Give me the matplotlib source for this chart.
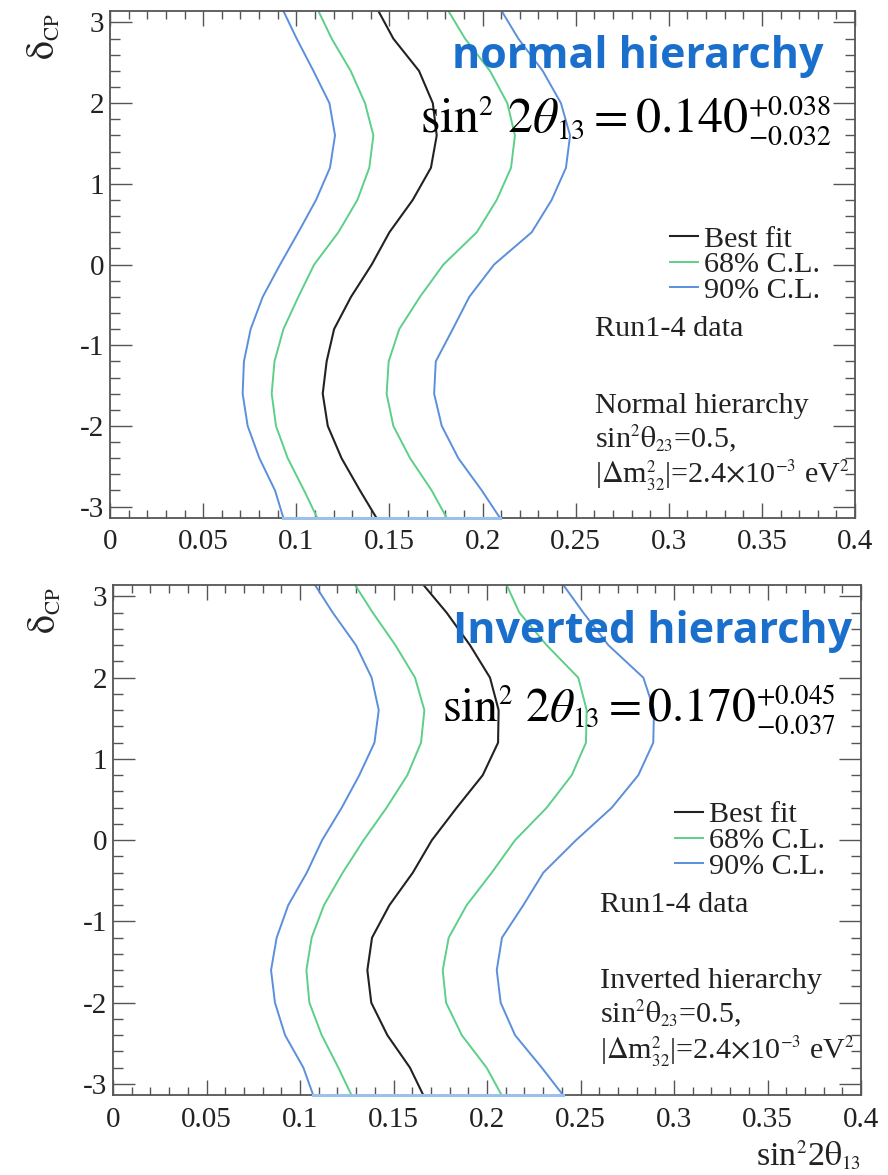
import numpy as np
import matplotlib.pyplot as plt
import matplotlib._mathtext as mathtext_internal
from matplotlib.ticker import MultipleLocator, FixedLocator, FixedFormatter

plt.rcParams['font.family'] = ['Liberation Serif', 'DejaVu Serif']
plt.rcParams['mathtext.fontset'] = 'stix'
# ROOT-style scripts are smaller than matplotlib's default 0.7
mathtext_internal.SHRINK_FACTOR = 0.56

# ---------- data ----------
delta = [-np.pi, -2.8, -2.4, -2.0, -1.6, -1.2, -0.8, -0.4, 0.0,
         0.4, 0.8, 1.2, 1.6, 2.0, 2.4, 2.8, np.pi]

# normal hierarchy
nh_blue_lo = [0.0931, 0.0886, 0.0802, 0.0739, 0.0712, 0.0719, 0.0755, 0.0820, 0.0913,
              0.1011, 0.1106, 0.1181, 0.1208, 0.1178, 0.1092, 0.1002, 0.0931]
nh_green_lo = [0.1113, 0.1042, 0.0954, 0.0891, 0.0868, 0.0883, 0.0931, 0.1011, 0.1096,
               0.1226, 0.1328, 0.1392, 0.1414, 0.1369, 0.1292, 0.1190, 0.1119]
nh_best = [0.1431, 0.1342, 0.1243, 0.1169, 0.1142, 0.1163, 0.1203, 0.1294, 0.1405,
           0.1500, 0.1625, 0.1723, 0.1754, 0.1733, 0.1659, 0.1521, 0.1441]
nh_green_hi = [0.1808, 0.1727, 0.1611, 0.1521, 0.1485, 0.1496, 0.1553, 0.1664, 0.1790,
               0.1969, 0.2076, 0.2153, 0.2174, 0.2133, 0.2040, 0.1906, 0.1817]
nh_blue_hi = [0.2094, 0.1996, 0.1870, 0.1781, 0.1740, 0.1749, 0.1840, 0.1929, 0.2062,
              0.2264, 0.2371, 0.2448, 0.2470, 0.2421, 0.2323, 0.2192, 0.2103]

# inverted hierarchy
ih_blue_lo = [0.1071, 0.1018, 0.0920, 0.0866, 0.0845, 0.0875, 0.0937, 0.1036, 0.1118,
              0.1223, 0.1317, 0.1398, 0.1421, 0.1383, 0.1299, 0.1175, 0.1080]
ih_green_lo = [0.1276, 0.1205, 0.1116, 0.1050, 0.1034, 0.1062, 0.1128, 0.1228, 0.1340,
               0.1463, 0.1574, 0.1647, 0.1665, 0.1615, 0.1510, 0.1389, 0.1294]
ih_best = [0.1660, 0.1588, 0.1467, 0.1381, 0.1360, 0.1385, 0.1478, 0.1603, 0.1705,
           0.1838, 0.1977, 0.2059, 0.2062, 0.2016, 0.1909, 0.1784, 0.1660]
ih_green_hi = [0.2079, 0.1998, 0.1865, 0.1781, 0.1763, 0.1795, 0.1891, 0.2025, 0.2150,
               0.2319, 0.2453, 0.2529, 0.2533, 0.2488, 0.2319, 0.2173, 0.2105]
ih_blue_hi = [0.2408, 0.2293, 0.2150, 0.2073, 0.2052, 0.2080, 0.2194, 0.2301, 0.2476,
              0.2667, 0.2809, 0.2889, 0.2893, 0.2836, 0.2649, 0.2515, 0.2408]

xticks = [0, 0.05, 0.1, 0.15, 0.2, 0.25, 0.3, 0.35, 0.4]
xticklabels = ["0", "0.05", "0.1", "0.15", "0.2", "0.25", "0.3", "0.35", "0.4"]
yticks = [-3, -2, -1, 0, 1, 2, 3]
yticklabels = ["-3", "-2", "-1", "0", "1", "2", "3"]

legend_labels = ["Best fit", "68% C.L.", "90% C.L."]

BLACK = "#222222"
GREEN = "#5ccf88"
BLUE = "#5b8fdc"
LIGHTBLUE = "#9cc0ec"
TITLE_BLUE = "#1b6fcc"
FRAME = "#555555"
TXT = "#222222"
FS = 21       # tick labels
FT = 21.7     # annotation / legend text

fig = plt.figure(figsize=(8.88, 11.75), dpi=100)
ax1 = fig.add_axes([0.1239, 0.5591, 0.8390, 0.4315])
ax2 = fig.add_axes([0.1273, 0.0677, 0.8423, 0.4345])


def draw_panel(ax, blue_lo, green_lo, best, green_hi, blue_hi):
    lb, = ax.plot(best, delta, color=BLACK, lw=1.5)
    lg, = ax.plot(green_lo, delta, color=GREEN, lw=1.4)
    ax.plot(green_hi, delta, color=GREEN, lw=1.4)
    lbl, = ax.plot(blue_lo, delta, color=BLUE, lw=1.4)
    ax.plot(blue_hi, delta, color=BLUE, lw=1.4)
    # 90% contour closes along the lower edge
    ax.plot([blue_lo[0], blue_hi[0]], [delta[0], delta[0]], color=LIGHTBLUE,
            lw=2.2, clip_on=False, zorder=5)

    ax.set_xlim(0, 0.4)
    ax.set_ylim(-np.pi, np.pi)
    ax.xaxis.set_major_locator(FixedLocator(xticks))
    ax.xaxis.set_major_formatter(FixedFormatter(xticklabels))
    ax.xaxis.set_minor_locator(MultipleLocator(0.01))
    ax.yaxis.set_major_locator(FixedLocator(yticks))
    ax.yaxis.set_major_formatter(FixedFormatter(yticklabels))
    ax.yaxis.set_minor_locator(MultipleLocator(0.2))
    ax.tick_params(which='both', direction='in', top=True, right=True,
                   color=FRAME, labelsize=FS, width=1.0, labelcolor=TXT)
    ax.tick_params(axis='x', which='major', length=11, pad=8)
    ax.tick_params(axis='x', which='minor', length=5.5)
    ax.tick_params(axis='y', which='major', length=16, pad=4)
    ax.tick_params(axis='y', which='minor', length=7.5)
    for s in ax.spines.values():
        s.set_color(FRAME)
        s.set_linewidth(1.3)
    return [lb, lg, lbl]


def annotate(ax, title, title_x, title_y, formula, form_x, form_y, form_fs,
             leg_handles, leg_y, hier, ys):
    ax.text(title_x, title_y, title, transform=ax.transAxes, ha='right',
            va='baseline', color=TITLE_BLUE, fontsize=31, fontweight='bold',
            family='Open Sans')
    ax.text(form_x, form_y, formula, transform=ax.transAxes, ha='left',
            va='baseline', fontsize=form_fs, color='black')
    ax.legend(leg_handles, legend_labels, loc='upper left',
              bbox_to_anchor=(0.7517, leg_y), frameon=False, fontsize=FT,
              handlelength=0.93, handletextpad=0.2, labelspacing=-0.05,
              borderpad=0, borderaxespad=0, labelcolor=TXT)
    lines = ["Run1-4 data", hier, r'sin$^2\mathrm{\theta}_{23}$=0.5,',
             r'|$\Delta$m$^2_{32}$|=2.4$\times$10$^{-3}$ eV$^2$']
    for s, y in zip(lines, ys):
        ax.text(0.651, y, s, transform=ax.transAxes, fontsize=FT,
                va='baseline', color=TXT)


h1 = draw_panel(ax1, nh_blue_lo, nh_green_lo, nh_best, nh_green_hi, nh_blue_hi)
h2 = draw_panel(ax2, ih_blue_lo, ih_green_lo, ih_best, ih_green_hi, ih_blue_hi)

annotate(ax1, "normal hierarchy", 0.957, 0.8876,
         r'$\sin^2\,2\theta_{13} = 0.140^{+0.038}_{-0.032}$', 0.416, 0.7594, 36,
         h1, 0.577, "Normal hierarchy", [0.359, 0.207, 0.140, 0.071])
annotate(ax2, "Inverted hierarchy", 0.988, 0.886,
         r'$\sin^2\,2\theta_{13} = 0.170^{+0.045}_{-0.037}$', 0.44, 0.7316, 34.5,
         h2, 0.576, "Inverted hierarchy", [0.3594, 0.2106, 0.142, 0.0735])

for ax, xl in [(ax1, -0.088), (ax2, -0.091)]:
    ax.text(xl, 0.996, r'$\mathrm{\delta}_{\mathrm{CP}}$', transform=ax.transAxes,
            rotation=90, ha='center', va='top', fontsize=27, color=TXT)

ax2.text(1.0, -0.136, r'sin$^2$2$\mathrm{\theta}_{13}$', transform=ax2.transAxes,
         ha='right', va='baseline', fontsize=24.5, color=TXT)

fig.savefig("out.png", dpi=100)
